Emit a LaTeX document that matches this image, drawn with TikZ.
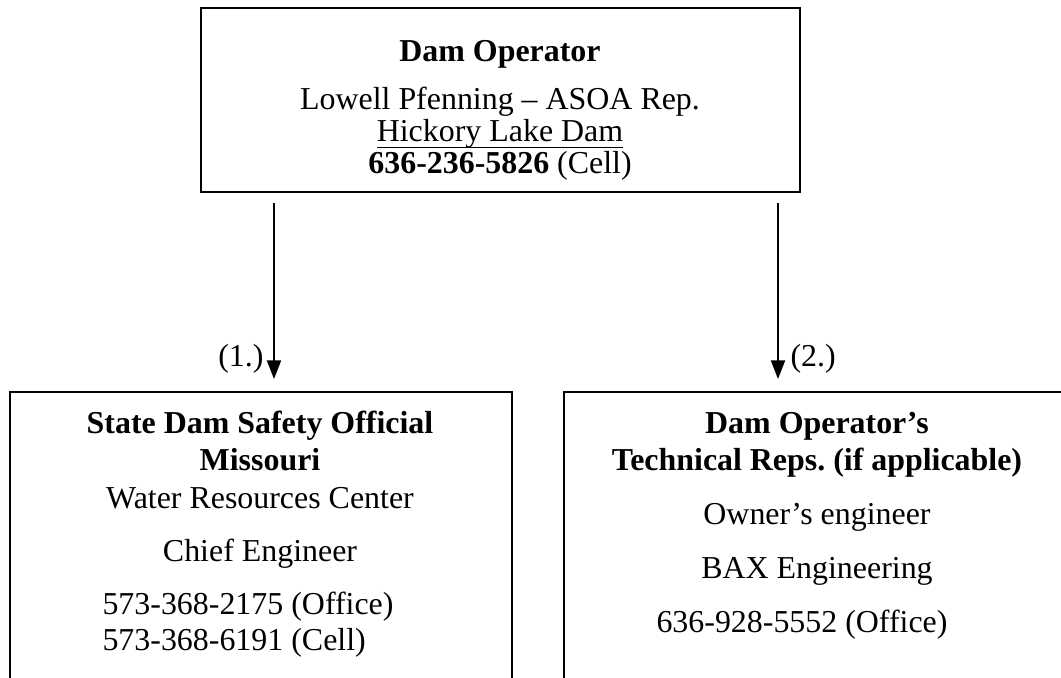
\documentclass[tikz,border=0pt]{standalone}
\usepackage{fontspec}
\setmainfont{Liberation Serif}
\usetikzlibrary{arrows.meta,fit,positioning}

% underline that sits just below the baseline
\newcommand\lineunder[1]{\leavevmode\vtop{\hbox{\smash{#1}}\kern2.2pt\hrule height0.6pt}}

\begin{document}
\begin{tikzpicture}[x=0.376pt,y=-0.376pt,
    box/.style={draw,line width=0.75pt,inner sep=0pt},
    plain/.style={anchor=base,inner sep=0pt,font=\fontsize{12}{14}\selectfont},
    head/.style={plain,font=\fontsize{12}{14}\selectfont\bfseries},
    link/.style={line width=0.9pt,-{Triangle[length=7pt,width=5.2pt]},shorten >=4.5pt}]

  \path[use as bounding box] (0,0) rectangle (1061,677);
  \clip (0,0) rectangle (1061,677);

  % boxes (the two lower ones run off the bottom)
  \node[box,fit={(201,8) (800,192)}] (oper) {};
  \node[box,fit={(10,392) (512,720)}] (state) {};
  \node[box,fit={(564,392) (1100,720)}] (tech) {};

  % dam operator
  \node[head] (oper1) at (500,61) {Dam Operator};
  \node[plain] (oper2) at (500,109) {Lowell Pfenning – ASOA Rep.};
  \node[plain] (oper3) at (500,141) {\lineunder{Hickory Lake Dam}};
  \node[plain] (oper4) at (500,173) {\textbf{636-236-5826} (Cell)};

  % state official
  \node[head] (st1) at (260,433) {State Dam Safety Official};
  \node[head] (st2) at (260,470) {Missouri};
  \node[plain] (st3) at (260,508) {Water Resources Center};
  \node[plain] (st4) at (260,561) {Chief Engineer};
  \node[plain,anchor=base west] (st5) at (102,614) {573-368-2175 (Office)};
  \node[plain,anchor=base west] (st6) at (102,650) {573-368-6191 (Cell)};

  % technical reps
  \node[head] (te1) at (817,433) {Dam Operator’s};
  \node[head] (te2) at (817,470) {Technical Reps.\ (if applicable)};
  \node[plain] (te3) at (817,524) {Owner’s engineer};
  \node[plain] (te4) at (817,578) {BAX Engineering};
  \node[plain] (te5) at (802,632) {636-928-5552 (Office)};

  % call order
  \coordinate (go1) at (274,203);
  \coordinate (go2) at (778,203);
  \draw[link] (go1) -- (go1 |- state.north);
  \draw[link] (go2) -- (go2 |- tech.north);
  \node[plain,anchor=base east] (n1) at (264,366) {(1.)};
  \node[plain,anchor=base west] (n2) at (790,366) {(2.)};
\end{tikzpicture}
\end{document}
